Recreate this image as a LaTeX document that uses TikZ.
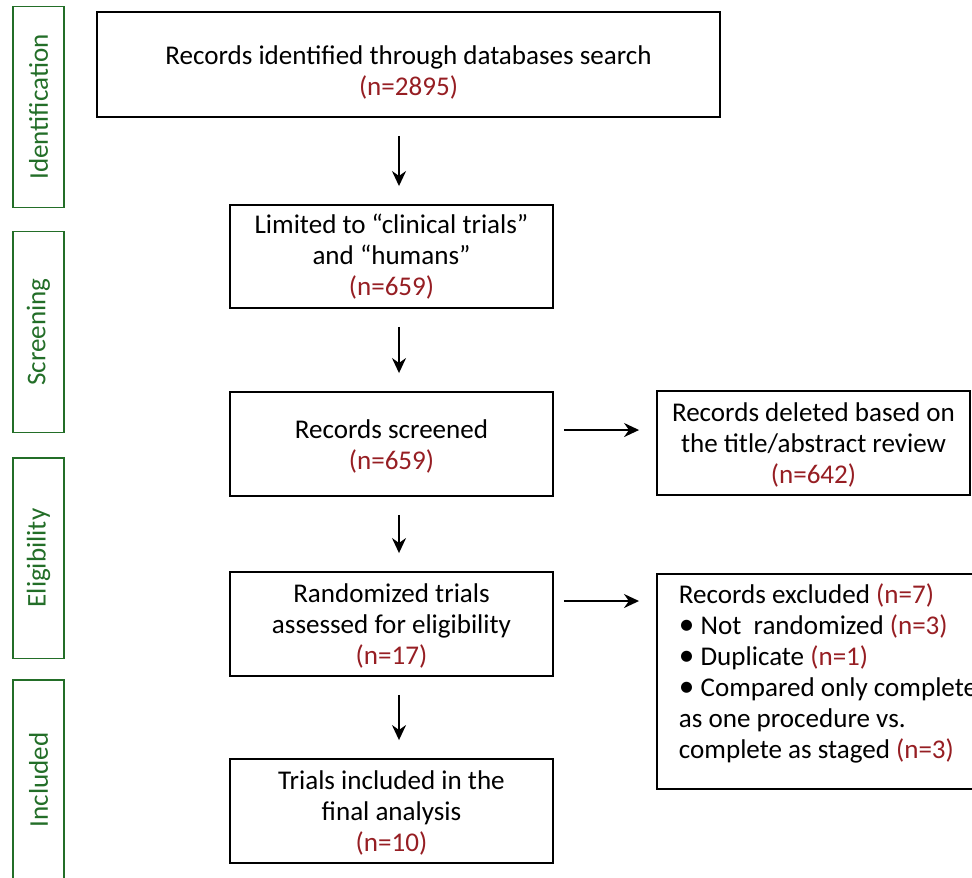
\documentclass[tikz,border=0pt]{standalone}
\usepackage{fontspec}
\setmainfont{Carlito}
\usepackage{xcolor}
\usepackage{tikz}
\usetikzlibrary{arrows.meta,positioning}

\definecolor{stagegreen}{RGB}{35,110,40}
\definecolor{countred}{RGB}{150,30,35}
\newcommand{\nval}[1]{\textcolor{countred}{(n=#1)}}
\newcommand{\dotmark}{\scalebox{1.15}{\textbullet}}

\begin{document}
\begin{tikzpicture}[
x=0.02cm, y=-0.02cm,
font=\fontsize{15.4}{17.6}\selectfont,
flowbox/.style={
		draw=black,
		line width=1.1pt,
		align=center,
		inner sep=0pt,
		},
stagebox/.style={
		draw=stagegreen,
		text=stagegreen,
		line width=1.1pt,
		rotate=90,
		minimum width=4.02cm,
		minimum height=1.02cm,
		inner sep=0pt,
		},
flowarrow/.style={
		line width=1.1pt,
		-{Stealth[length=0.3cm,width=0.28cm]},
		}
]

\useasboundingbox (0,0) rectangle (972,877);
\clip (0,0) rectangle (972,877);

\def \gap {0.36cm} % space between box and arrow

% stages on the left
\node[stagebox] (ident) at (38.5,107) {Identification};
\node[stagebox] (screen) at (38.5,332) {Screening};
\node[stagebox] (elig) at (38.5,558) {Eligibility};
\node[stagebox] (incl) at (38.5,780) {Included};

% main column
\node[flowbox, minimum width=12.46cm, minimum height=2.1cm] (search) at (408.5,64.5)
  {\rule{0pt}{0.7cm}Records identified through databases search\\ \nval{2895}};
\node[flowbox, minimum width=6.46cm, minimum height=2.06cm] (limit) at (391.5,256.5)
  {Limited to “clinical trials”\\ and “humans”\\ \nval{659}};
\node[flowbox, minimum width=6.46cm, minimum height=2.08cm] (screened) at (391.5,444)
  {\rule{0pt}{0.46cm}Records screened\\ \nval{659}};
\node[flowbox, minimum width=6.46cm, minimum height=2.08cm] (random) at (391.5,624)
  {\rule{0pt}{0.46cm}Randomized trials\\ assessed for eligibility\\ \nval{17}};
\node[flowbox, minimum width=6.46cm, minimum height=2.08cm] (final) at (391.5,811)
  {\rule{0pt}{0.46cm}Trials included in the\\ final analysis\\ \nval{10}};

% side boxes
\node[flowbox, minimum width=6.26cm, minimum height=2.08cm] (deleted) at (813.5,443)
  {\rule{0pt}{0.46cm}Records deleted based on\\ the title/abstract review\\ \nval{642}};
\node[flowbox, anchor=north west, minimum width=8.88cm, minimum height=4.3cm,
  text width=8cm, inner xsep=0.44cm, align=flush left] (excluded) at (656,573)
  {Records excluded \nval{7}\\
   \dotmark\ Not\ \ randomized \nval{3}\\
   \dotmark\ Duplicate \nval{1}\\
   \dotmark\ Compared only complete\\
   as one procedure vs.\\
   complete as staged \nval{3}\\[-0.2cm]
   \mbox{}};

\coordinate (axis) at (399,0);

\draw[flowarrow, shorten <=\gap, shorten >=\gap] (search.south -| axis) -- (limit.north -| axis);
\draw[flowarrow, shorten <=\gap, shorten >=\gap] (limit.south -| axis) -- (screened.north -| axis);
\draw[flowarrow, shorten <=\gap, shorten >=\gap] (screened.south -| axis) -- (random.north -| axis);
\draw[flowarrow, shorten <=\gap, shorten >=\gap] (random.south -| axis) -- (final.north -| axis);

\draw[flowarrow, shorten <=0.2cm, shorten >=0.34cm] ([yshift=0.28cm]screened.east) -- ([yshift=0.28cm]screened.east -| deleted.west);
\draw[flowarrow, shorten <=0.2cm, shorten >=0.34cm] ([yshift=0.46cm]random.east) -- ([yshift=0.46cm]random.east -| excluded.west);
\end{tikzpicture}
\end{document}
